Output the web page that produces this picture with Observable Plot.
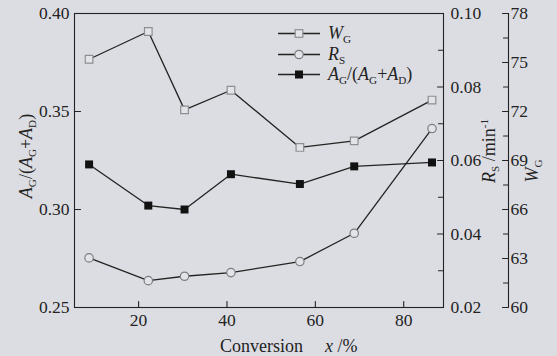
<!DOCTYPE html>
<html><head><meta charset="utf-8">
<script src="https://cdn.jsdelivr.net/npm/d3@7"></script>
<script src="https://cdn.jsdelivr.net/npm/@observablehq/plot@0.6"></script>
<style>
html,body{margin:0;padding:0;background:#dcdde2;}
#chart{width:557px;height:356px;}
</style></head><body><div id="chart"></div>
<script>
// ---- data ----
const conversion = [8.8, 22.2, 30.4, 40.9, 56.5, 68.8, 86.4];
const wG = [75.2, 76.9, 72.1, 73.3, 69.8, 70.2, 72.7];
const rS = [0.0335, 0.0273, 0.0285, 0.0295, 0.0325, 0.0402, 0.0687];
const aRatio = [0.323, 0.302, 0.300, 0.318, 0.313, 0.322, 0.324];

const xTicks = [20, 40, 60, 80];
const aTicks = [0.25, 0.30, 0.35, 0.40];
const rsTicks = [0.02, 0.04, 0.06, 0.08, 0.10];
const rsMinor = [0.03, 0.05, 0.07, 0.09];
const wgTicks = [60, 63, 66, 69, 72, 75, 78];
const wgMinor = [61.5, 64.5, 67.5, 70.5, 73.5, 76.5];

const xDom = [5.5, 89];
const aDom = [0.25, 0.40], rsDom = [0.02, 0.10], wgDom = [60, 78];
const lin = (dom) => v => aDom[0] + (v - dom[0]) / (dom[1] - dom[0]) * (aDom[1] - aDom[0]);
const fromRs = lin(rsDom), fromWg = lin(wgDom);

const rows = conversion.map((x, i) => ({x, a: aRatio[i], rs: fromRs(rS[i]), wg: fromWg(wG[i])}));

const ink = "#232323";
const mfill = "#e3e4e8";

const rsLabel = new Map(rsTicks.map(v => [fromRs(v), v.toFixed(2)]));
const wgLabel = new Map(wgTicks.map(v => [fromWg(v), String(v)]));

const W = 557, H = 356;
const mL = 74, mR = 114, mT = 13, mB = 49;

// simple straight tick shape for vectors
const tickShape = {draw(context, l) { context.moveTo(0, 0); context.lineTo(0, -l); }};
const tk = (data, opts) => Plot.vector(data, {length: 6, anchor: "start", shape: tickShape, stroke: ink, strokeWidth: 1.1, ...opts});

const plot = Plot.plot({
  width: W, height: H,
  marginLeft: mL, marginRight: mR, marginTop: mT, marginBottom: mB,
  style: {background: "transparent", fontFamily: "'Liberation Serif', 'DejaVu Serif', serif", fontSize: "17.5px", color: ink, overflow: "visible"},
  x: {domain: xDom},
  y: {domain: aDom},
  marks: [
    Plot.frame({stroke: ink, strokeWidth: 1.1}),
    Plot.ruleX([xDom[1]], {dx: 65, stroke: ink, strokeWidth: 1.1}),
    Plot.axisX({ticks: xTicks, tickSize: 0, tickPadding: 6, label: null}),
    Plot.axisY({anchor: "left", ticks: aTicks, tickFormat: d => d.toFixed(2), tickSize: 0, tickPadding: 5, label: null}),
    Plot.axisY({anchor: "right", ticks: rsTicks.map(fromRs), tickFormat: d => rsLabel.get(d) ?? "", tickSize: 0, tickPadding: 7, label: null}),
    Plot.axisY({anchor: "right", dx: 65, ticks: wgTicks.map(fromWg), tickFormat: d => wgLabel.get(d) ?? "", tickSize: 0, tickPadding: 2, label: null}),
    // inward tick marks
    tk(xTicks, {x: d => d, frameAnchor: "bottom", rotate: 0}),
    tk(aTicks, {y: d => d, frameAnchor: "left", rotate: 90}),
    tk(rsTicks.map(fromRs), {y: d => d, frameAnchor: "right", rotate: -90}),
    tk(rsMinor.map(fromRs), {y: d => d, frameAnchor: "right", rotate: -90, length: 5}),
    tk(wgTicks.map(fromWg), {y: d => d, frameAnchor: "right", dx: 65, rotate: -90}),
    tk(wgMinor.map(fromWg), {y: d => d, frameAnchor: "right", dx: 65, rotate: -90, length: 5}),
    // data
    Plot.line(rows, {x: "x", y: "wg", stroke: ink, strokeWidth: 1.3}),
    Plot.line(rows, {x: "x", y: "rs", stroke: ink, strokeWidth: 1.3}),
    Plot.line(rows, {x: "x", y: "a", stroke: ink, strokeWidth: 1.3}),
    Plot.dot(rows, {x: "x", y: "wg", symbol: "square", r: 4.3, stroke: "#8e8e92", fill: mfill, strokeWidth: 1.2}),
    Plot.dot(rows, {x: "x", y: "rs", symbol: "circle", r: 4.2, stroke: "#7d7d82", fill: mfill, strokeWidth: 1.2}),
    Plot.dot(rows, {x: "x", y: "a", symbol: "square", r: 4.5, fill: "#111", stroke: "none"})
  ]
});
document.getElementById("chart").appendChild(plot);

// ---- titles and legend (text with sub/superscripts) ----
const svg = d3.select(plot);
const font = "'Liberation Serif', 'DejaVu Serif', serif";
function rich(g, parts, size, anchor = "start") {
  const t = g.append("text").attr("font-family", font).attr("font-size", size).attr("fill", ink).attr("text-anchor", anchor);
  let shift = 0;
  for (const p of parts) {
    const s = t.append("tspan").text(p.t);
    if (p.i) s.attr("font-style", "italic");
    const want = p.sub ? 4 : p.sup ? -7 : 0;
    if (want !== shift) { s.attr("dy", want - shift); shift = want; }
    if (p.sub || p.sup) s.attr("font-size", size * 0.62);
  }
  return t;
}
// x title
const xt = svg.append("g");
rich(xt, [{t: "Conversion"}], 18).attr("x", 220).attr("y", 352);
rich(xt, [{t: "x", i: true}, {t: " /%"}], 18).attr("x", 325).attr("y", 352);

// left title
const lt = svg.append("g").attr("transform", "translate(32,156) rotate(-90)");
rich(lt, [{t: "A", i: true}, {t: "G", sub: true}, {t: "/("}, {t: "A", i: true}, {t: "G", sub: true}, {t: "+"}, {t: "A", i: true}, {t: "D", sub: true}, {t: ")"}], 18, "middle");

// R_S title
const rt = svg.append("g").attr("transform", "translate(495,151) rotate(-90)");
rich(rt, [{t: "R", i: true}, {t: "S", sub: true}, {t: " /min"}, {t: "-1", sup: true}], 18, "middle");

// W_G title
const wt = svg.append("g").attr("transform", "translate(538,171) rotate(-90)");
rich(wt, [{t: "W", i: true}, {t: "G", sub: true}], 18, "middle");

// legend
const legend = [
  {y: 33.5, kind: "sq", parts: [{t: "W", i: true}, {t: "G", sub: true}]},
  {y: 54.5, kind: "ci", parts: [{t: "R", i: true}, {t: "S", sub: true}]},
  {y: 74.5, kind: "fs", parts: [{t: "A", i: true}, {t: "G", sub: true}, {t: "/("}, {t: "A", i: true}, {t: "G", sub: true}, {t: "+"}, {t: "A", i: true}, {t: "D", sub: true}, {t: ")"}]}
];
const lg = svg.append("g");
for (const r of legend) {
  lg.append("line").attr("x1", 278).attr("x2", 320).attr("y1", r.y).attr("y2", r.y).attr("stroke", ink).attr("stroke-width", 1.3);
  if (r.kind === "sq") lg.append("rect").attr("x", 295.2).attr("y", r.y - 3.8).attr("width", 7.6).attr("height", 7.6).attr("fill", mfill).attr("stroke", "#8e8e92").attr("stroke-width", 1.2);
  if (r.kind === "ci") lg.append("circle").attr("cx", 299).attr("cy", r.y).attr("r", 4.2).attr("fill", mfill).attr("stroke", "#7d7d82").attr("stroke-width", 1.2);
  if (r.kind === "fs") lg.append("rect").attr("x", 295).attr("y", r.y - 4).attr("width", 8).attr("height", 8).attr("fill", "#111");
  rich(lg, r.parts, 18).attr("x", 328).attr("y", r.y + 5);
}
</script></body></html>
